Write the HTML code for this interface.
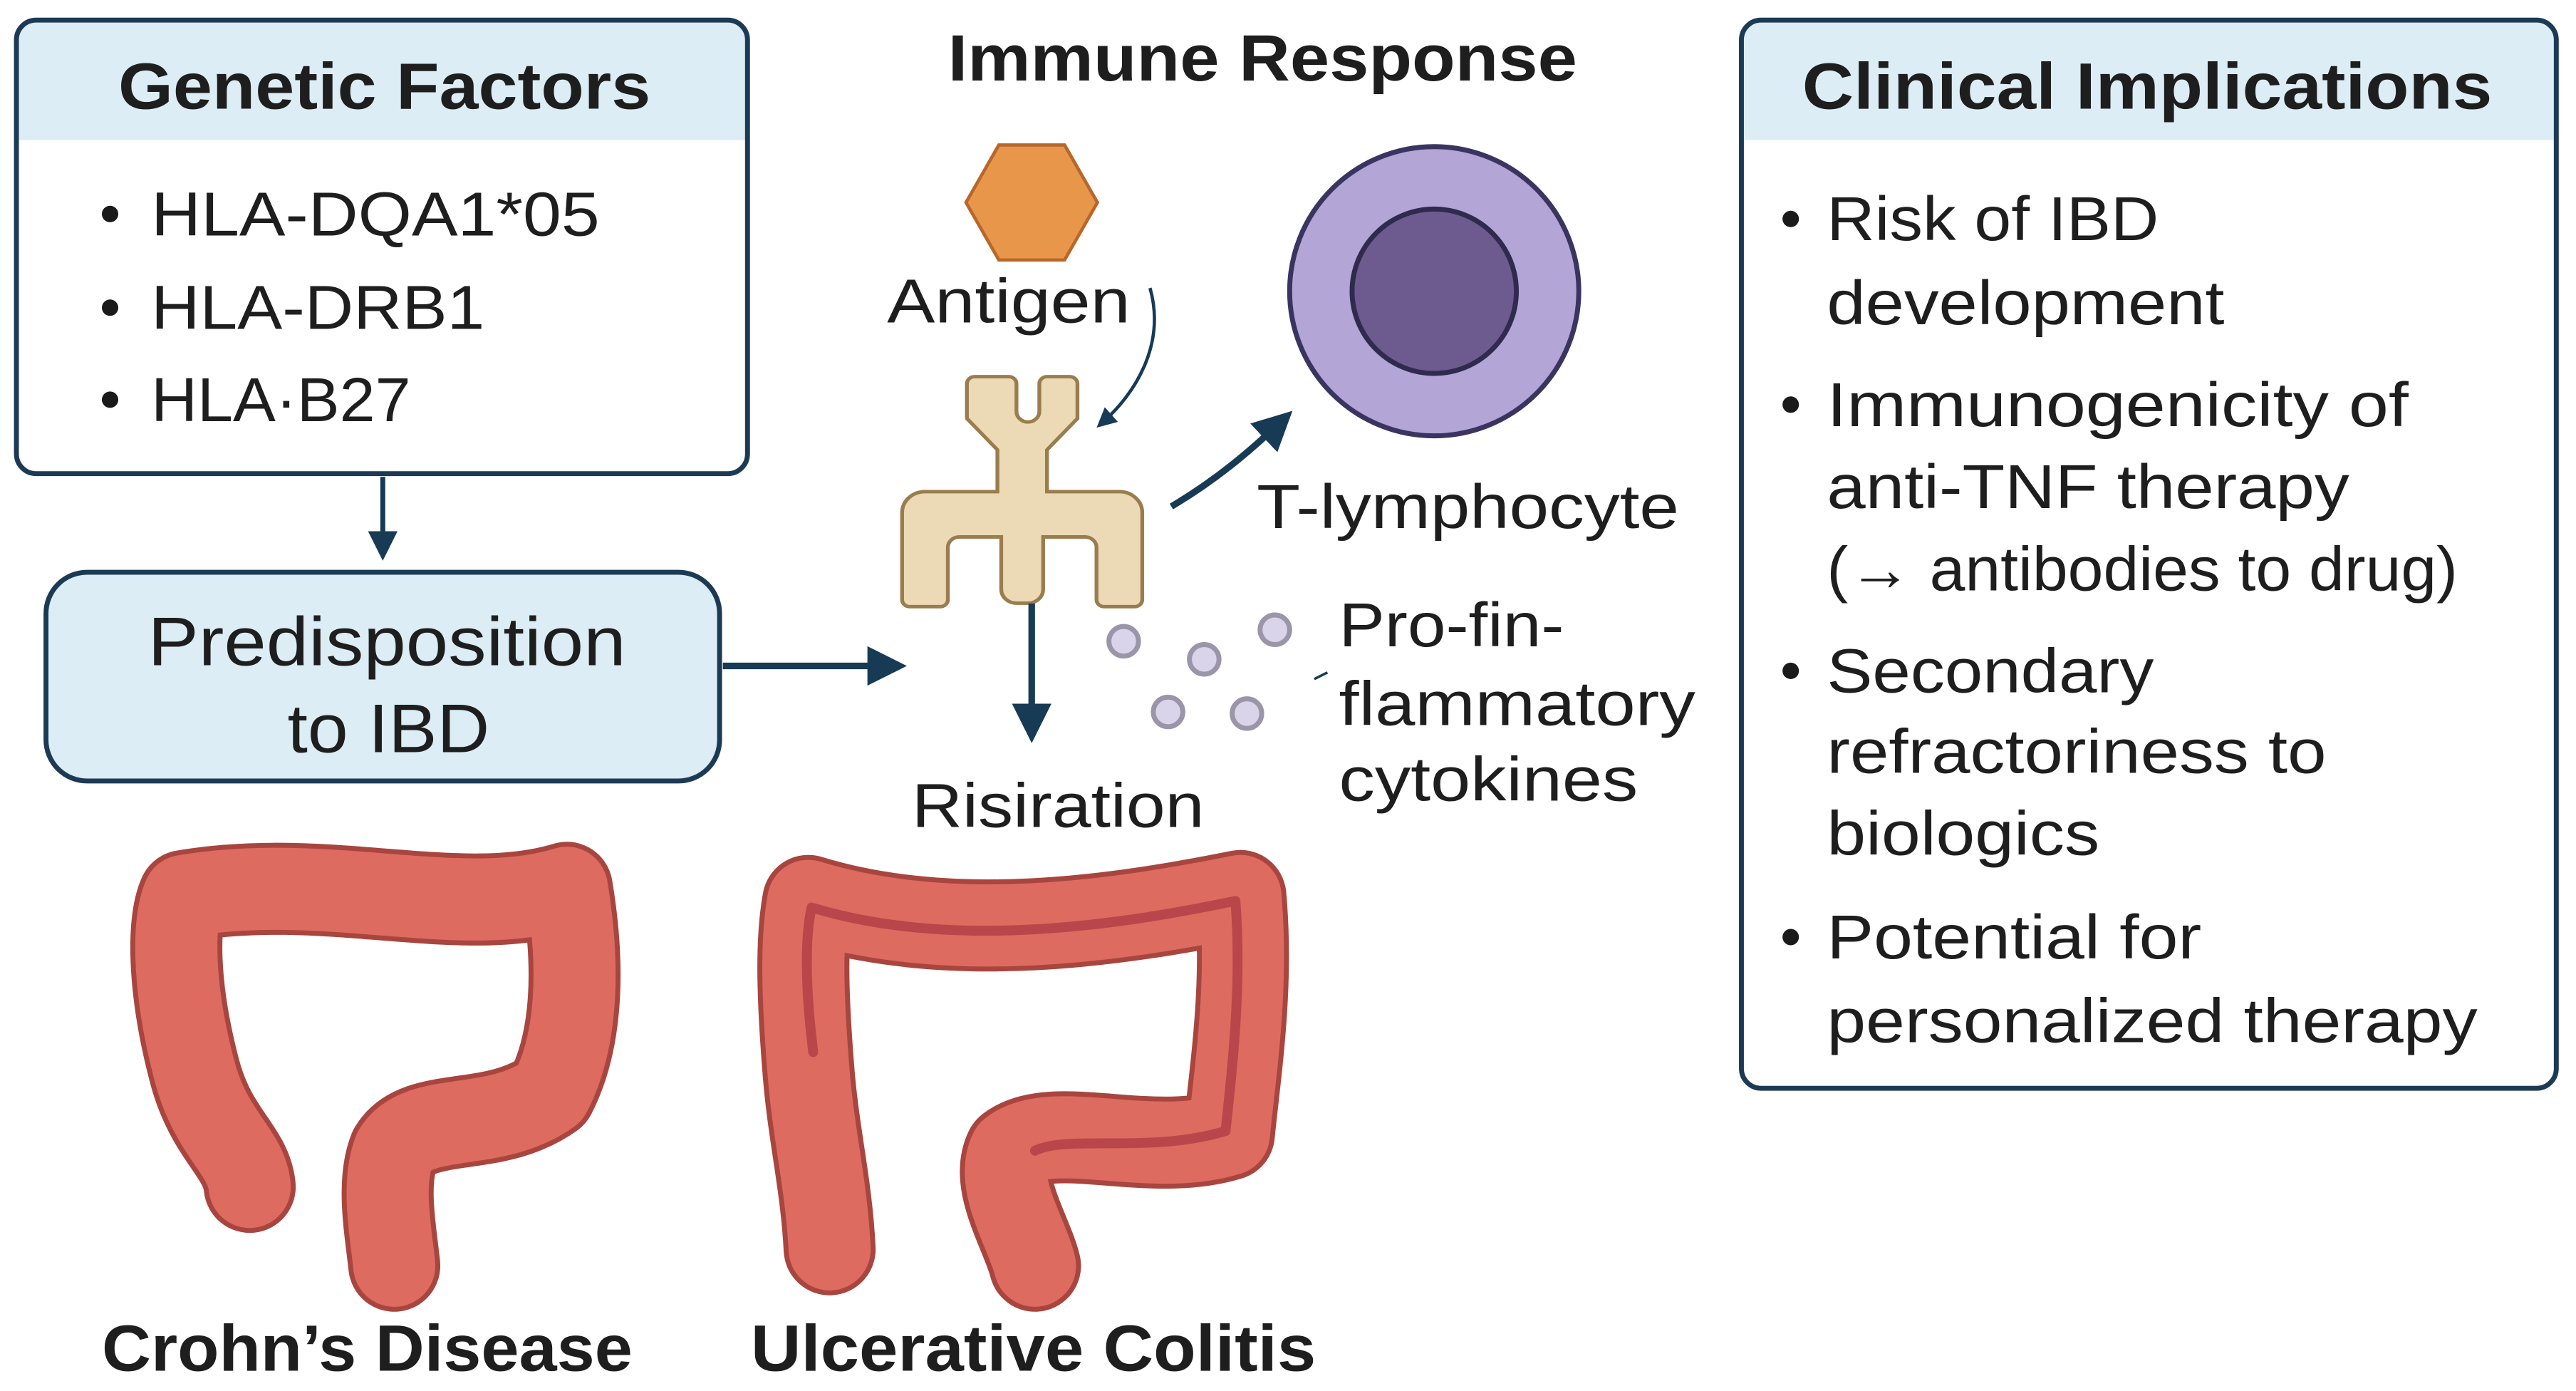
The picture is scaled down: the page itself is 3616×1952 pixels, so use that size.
<!DOCTYPE html>
<html><head><meta charset="utf-8"><style>
html,body{margin:0;padding:0;background:#fff;}
svg{display:block;}
text{font-family:"Liberation Sans","DejaVu Sans",sans-serif;fill:#1e1e1e;dominant-baseline:central;}
</style></head><body>
<svg width="3616" height="1952" viewBox="0 0 1568 846" xmlns="http://www.w3.org/2000/svg">
<defs>
<marker id="ah" markerWidth="6" markerHeight="6" refX="3" refY="3" orient="auto" markerUnits="strokeWidth">
<path d="M0,0 L6,3 L0,6 z" fill="#173a55"/></marker>
<clipPath id="c1"><rect x="10" y="12" width="445" height="276" rx="12"/></clipPath>
<clipPath id="c2"><rect x="1060" y="12" width="496" height="650" rx="12"/></clipPath>
</defs>
<!-- Genetic factors -->
<g clip-path="url(#c1)"><rect x="10" y="12" width="445" height="73" fill="#dcedf5"/></g>
<rect x="10" y="12" width="445" height="276" rx="12" fill="none" stroke="#1d3a55" stroke-width="3"/>
<text x="72" y="52" font-size="40" font-weight="bold" textLength="324" lengthAdjust="spacingAndGlyphs">Genetic Factors</text>
<g font-size="38">
<circle cx="67" cy="130" r="5" fill="#1a1a1a"/><text x="92" y="130" textLength="273" lengthAdjust="spacingAndGlyphs">HLA-DQA1*05</text>
<circle cx="67" cy="187" r="5" fill="#1a1a1a"/><text x="92" y="187" textLength="203" lengthAdjust="spacingAndGlyphs">HLA-DRB1</text>
<circle cx="67" cy="243" r="5" fill="#1a1a1a"/><text x="92" y="243" textLength="158" lengthAdjust="spacingAndGlyphs">HLA·B27</text>
</g>
<line x1="233" y1="290" x2="233" y2="332" stroke="#173a55" stroke-width="3" marker-end="url(#ah)"/>
<!-- Predisposition -->
<rect x="28" y="348" width="410" height="127" rx="25" fill="#dcedf5" stroke="#1d3a55" stroke-width="3"/>
<text x="90" y="390" font-size="42" textLength="291" lengthAdjust="spacingAndGlyphs">Predisposition</text>
<text x="175" y="443" font-size="42" textLength="123" lengthAdjust="spacingAndGlyphs">to IBD</text>
<line x1="440" y1="405" x2="540" y2="405" stroke="#173a55" stroke-width="4" marker-end="url(#ah)"/>
<!-- Immune -->
<text x="577" y="35" font-size="40" font-weight="bold" textLength="383" lengthAdjust="spacingAndGlyphs">Immune Response</text>
<polygon points="608,88 648,88 668,123 648,158 608,158 588,123" fill="#e8964a" stroke="#b8672a" stroke-width="2"/>
<text x="540" y="183" font-size="38" textLength="148" lengthAdjust="spacingAndGlyphs">Antigen</text>
<path d="M700,175 C710,210 690,240 672,256" fill="none" stroke="#173a55" stroke-width="2" marker-end="url(#ah)"/>
<!-- receptor -->
<g transform="translate(628,229) scale(1.16,1.06) translate(-628,-229)">
<path d="M604,229 h12 a4,4 0 0 1 4,4 v16 a6,6 0 0 0 12,0 v-16 a4,4 0 0 1 4,-4 h12 a4,4 0 0 1 4,4 v20 l-16,18 v24 h38 a12,12 0 0 1 12,12 v50 a4,4 0 0 1 -4,4 h-16 a4,4 0 0 1 -4,-4 v-30 a6,6 0 0 0 -6,-6 h-22 v30 a8,8 0 0 1 -8,8 h-6 a8,8 0 0 1 -8,-8 v-30 h-22 a6,6 0 0 0 -6,6 v30 a4,4 0 0 1 -4,4 h-16 a4,4 0 0 1 -4,-4 v-50 a12,12 0 0 1 12,-12 h38 v-24 l-16,-18 v-20 a4,4 0 0 1 4,-4 z" fill="#ecd9b5" stroke="#9a7d4e" stroke-width="2"/>
</g>
<line x1="628" y1="367" x2="628" y2="440" stroke="#173a55" stroke-width="4" marker-end="url(#ah)"/>
<text x="555" y="490" font-size="38" textLength="178" lengthAdjust="spacingAndGlyphs">Risiration</text>
<path d="M713,308 C740,292 760,275 778,258" fill="none" stroke="#173a55" stroke-width="4" marker-end="url(#ah)"/>
<circle cx="873" cy="177" r="88" fill="#b3a5d6" stroke="#3a3460" stroke-width="3"/>
<circle cx="873" cy="177" r="50" fill="#6d5a8e" stroke="#2f2a4e" stroke-width="3"/>
<text x="765" y="308" font-size="38" textLength="257" lengthAdjust="spacingAndGlyphs">T-lymphocyte</text>
<g fill="#d9d4ea" stroke="#9a95a8" stroke-width="3">
<circle cx="684" cy="390" r="9"/><circle cx="733" cy="401" r="9"/><circle cx="776" cy="383" r="9"/>
<circle cx="711" cy="433" r="9"/><circle cx="759" cy="434" r="9"/></g>
<line x1="800" y1="413" x2="808" y2="409" stroke="#173a55" stroke-width="1.5"/>
<g font-size="38"><text x="815" y="380" textLength="137" lengthAdjust="spacingAndGlyphs">Pro-ﬁn-</text><text x="815" y="428" textLength="217" lengthAdjust="spacingAndGlyphs">flammatory</text><text x="815" y="474" textLength="182" lengthAdjust="spacingAndGlyphs">cytokines</text></g>
<!-- colons -->
<g fill="none" stroke-linecap="round" stroke-linejoin="round">
<path d="M152,722 C150,700 128,690 118,650 C105,600 105,560 112,545 C200,530 280,560 345,540 C355,600 348,640 335,665 C300,690 255,675 240,700 C232,720 238,750 240,770" stroke="#a8453f" stroke-width="56"/>
<path d="M152,722 C150,700 128,690 118,650 C105,600 105,560 112,545 C200,530 280,560 345,540 C355,600 348,640 335,665 C300,690 255,675 240,700 C232,720 238,750 240,770" stroke="#dd6b60" stroke-width="50"/>
<path d="M505,760 C503,720 495,690 492,650 C488,600 488,570 492,548 C580,575 680,560 755,545 C760,600 752,650 748,690 C700,705 640,680 615,700 C605,720 625,750 630,770" stroke="#a8453f" stroke-width="56"/>
<path d="M505,760 C503,720 495,690 492,650 C488,600 488,570 492,548 C580,575 680,560 755,545 C760,600 752,650 748,690 C700,705 640,680 615,700 C605,720 625,750 630,770" stroke="#dd6b60" stroke-width="50"/>
<path d="M495,640 C490,600 490,570 494,552 C580,578 680,563 752,548 C756,600 750,650 746,688 C700,702 650,690 630,700" stroke="#b9464a" stroke-width="6"/>
</g>
<text x="62" y="820" font-size="40" font-weight="bold" textLength="323" lengthAdjust="spacingAndGlyphs">Crohn’s Disease</text>
<text x="457" y="820" font-size="40" font-weight="bold" textLength="344" lengthAdjust="spacingAndGlyphs">Ulcerative Colitis</text>
<!-- Clinical -->
<g clip-path="url(#c2)"><rect x="1060" y="12" width="496" height="73" fill="#dcedf5"/></g>
<rect x="1060" y="12" width="496" height="650" rx="12" fill="none" stroke="#1d3a55" stroke-width="3"/>
<text x="1097" y="52" font-size="40" font-weight="bold" textLength="420" lengthAdjust="spacingAndGlyphs">Clinical Implications</text>
<g font-size="38">
<circle cx="1090" cy="133" r="5" fill="#1a1a1a"/>
<text x="1112" y="133" textLength="202" lengthAdjust="spacingAndGlyphs">Risk of IBD</text><text x="1112" y="184" textLength="242" lengthAdjust="spacingAndGlyphs">development</text>
<circle cx="1090" cy="246" r="5" fill="#1a1a1a"/>
<text x="1112" y="246" textLength="354" lengthAdjust="spacingAndGlyphs">Immunogenicity of</text><text x="1112" y="296" textLength="318" lengthAdjust="spacingAndGlyphs">anti-TNF therapy</text><text x="1112" y="346" textLength="384" lengthAdjust="spacingAndGlyphs">(→ antibodies to drug)</text>
<circle cx="1090" cy="408" r="5" fill="#1a1a1a"/>
<text x="1112" y="408" textLength="199" lengthAdjust="spacingAndGlyphs">Secondary</text><text x="1112" y="457" textLength="304" lengthAdjust="spacingAndGlyphs">refractoriness to</text><text x="1112" y="507" textLength="166" lengthAdjust="spacingAndGlyphs">biologics</text>
<circle cx="1090" cy="570" r="5" fill="#1a1a1a"/>
<text x="1112" y="570" textLength="228" lengthAdjust="spacingAndGlyphs">Potential for</text><text x="1112" y="621" textLength="396" lengthAdjust="spacingAndGlyphs">personalized therapy</text>
</g>
</svg>
</body></html>
